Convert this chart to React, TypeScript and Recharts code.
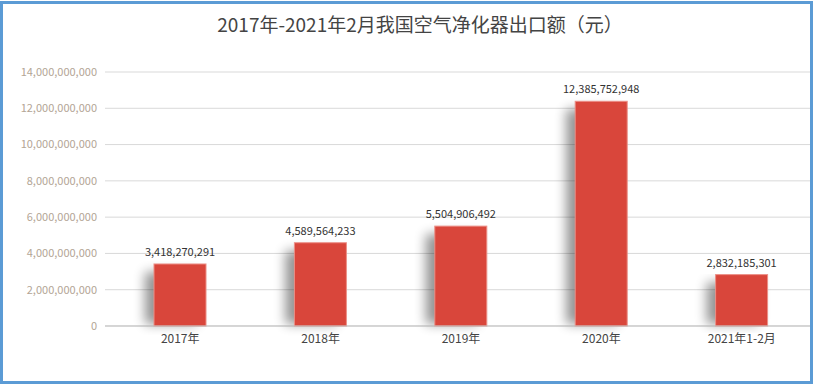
import React from "react";
import { BarChart, Bar, CartesianGrid, XAxis, YAxis, LabelList } from "recharts";

const categories = ["2017年", "2018年", "2019年", "2020年", "2021年1-2月"];
const exportValues = [3418270291, 4589564233, 5504906492, 12385752948, 2832185301];
const yTicks = [0, 2000000000, 4000000000, 6000000000, 8000000000, 10000000000, 12000000000, 14000000000];

const rows = categories.map((c, i) => ({ name: c, value: exportValues[i] }));
const fmt = (v: number) => Number(v).toLocaleString("en-US");
const font = "'Noto Sans CJK SC', 'Noto Sans', sans-serif";

function ShadowBar(props: any) {
  const { x, y, width, height } = props;
  if (!height) return null;
  return (
    <g>
      <defs>
        <filter id="barShadow" x="-60%" y="-20%" width="220%" height="140%">
          <feGaussianBlur stdDeviation="6" />
        </filter>
      </defs>
      <rect x={x - 9} y={y + 8} width={width} height={Math.max(height - 10, 0)} fill="#000" opacity={0.42} filter="url(#barShadow)" />
      <rect x={x} y={y} width={width} height={height} fill="#d9463b" stroke="#ec8f87" strokeWidth={1} />
    </g>
  );
}

export default function App() {
  return (
    <div style={{ position: "absolute", left: 0, top: 0, width: 813, height: 385, background: "#fff", fontFamily: font }}>
      <BarChart width={813} height={385} data={rows} margin={{ top: 72, right: 1, left: 5, bottom: 29 }}>
        <CartesianGrid vertical={false} stroke="#d9d9d9" />
        <XAxis
          dataKey="name"
          tickLine={false}
          axisLine={{ stroke: "#bfbfbf" }}
          padding={{ left: 5, right: 0 }}
          tick={{ fontSize: 12, fill: "#444", fontFamily: font }}
        />
        <YAxis
          domain={[0, 14000000000]}
          ticks={yTicks}
          tickFormatter={fmt}
          tickLine={false}
          axisLine={false}
          width={100}
          tick={{ fontSize: 11, fill: "#b3a595", fontFamily: font }}
        />
        <Bar dataKey="value" barSize={52} shape={ShadowBar} isAnimationActive={false}>
          <LabelList dataKey="value" position="top" offset={8} formatter={fmt} style={{ fontSize: 11, fill: "#333", fontFamily: font }} />
        </Bar>
      </BarChart>
      <div style={{ position: "absolute", left: 0, top: 1, width: 807, height: 377, border: "3px solid #5b9bd5", pointerEvents: "none" }} />
      <div style={{ position: "absolute", left: 0, top: 10, width: 840, textAlign: "center", fontSize: 19, color: "#444" }}>
        2017年-2021年2月我国空气净化器出口额（元）
      </div>
    </div>
  );
}
